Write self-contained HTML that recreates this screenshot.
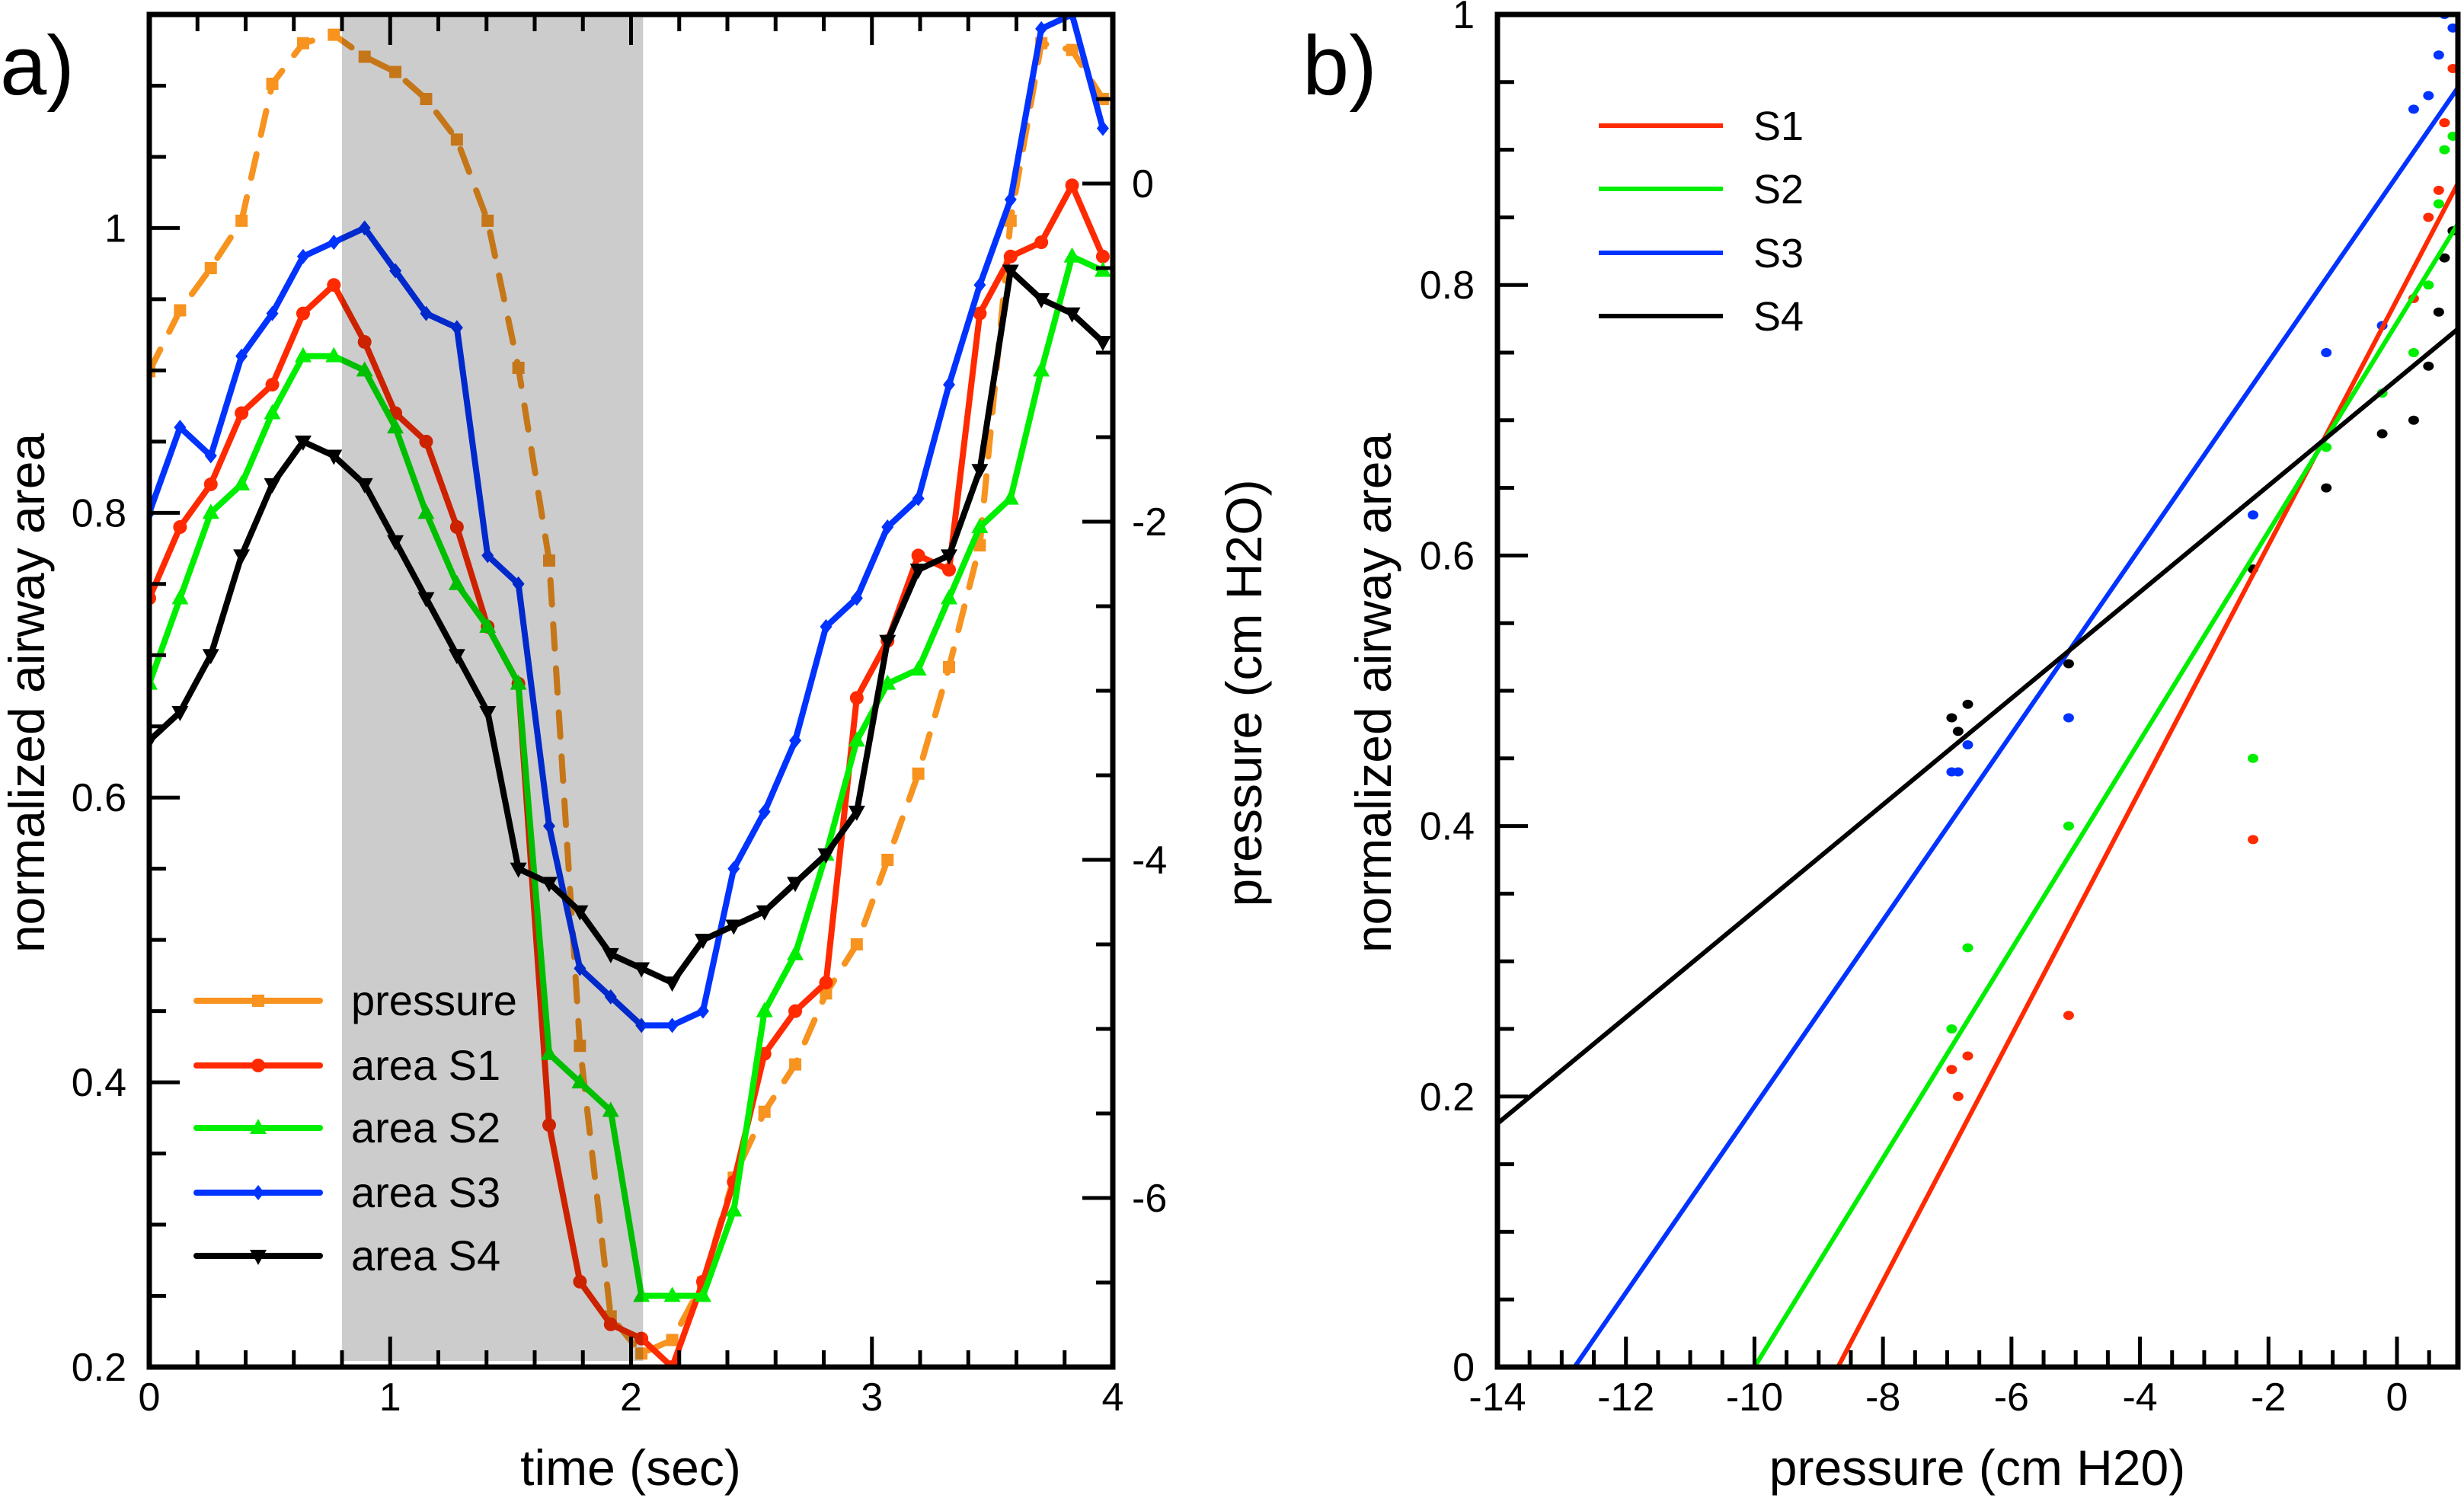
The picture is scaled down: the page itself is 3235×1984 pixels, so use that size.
<!DOCTYPE html>
<html><head><meta charset="utf-8"><style>
html,body{margin:0;padding:0;background:#fff;overflow:hidden;width:3235px;height:1984px}
svg{display:block}
text{font-family:"Liberation Sans",Arial,sans-serif;fill:#000}
</style></head><body>
<svg id="fig" width="3235" height="1984" viewBox="0 0 3235 1984" xmlns="http://www.w3.org/2000/svg">
<g id="pa"></g>
<g id="pb"></g>
</svg>
<script>
// ---- Panel a data ----
const sampleIndex = [0,1,2,3,4,5,6,7,8,9,10,11,12,13,14,15,16,17,18,19,20,21,22,23,24,25,26,27,28,29,30,31];
const sampleStep = 0.1277;
const pressureA = [-1.11,-0.75,-0.50,-0.22,0.59,0.83,0.88,0.75,0.66,0.50,0.26,-0.22,-1.09,-2.23,-5.10,-6.70,-6.92,-6.84,-6.50,-5.88,-5.49,-5.21,-4.79,-4.50,-4.00,-3.49,-2.86,-2.14,-0.22,0.83,0.79,0.50];
const areaS1 = [0.74,0.79,0.82,0.87,0.89,0.94,0.96,0.92,0.87,0.85,0.79,0.72,0.68,0.37,0.26,0.23,0.22,0.20,0.26,0.33,0.42,0.45,0.47,0.67,0.71,0.77,0.76,0.94,0.98,0.99,1.03,0.98];
const areaS2 = [0.68,0.74,0.80,0.82,0.87,0.91,0.91,0.90,0.86,0.80,0.75,0.72,0.68,0.42,0.40,0.38,0.25,0.25,0.25,0.31,0.45,0.49,0.56,0.64,0.68,0.69,0.74,0.79,0.81,0.90,0.98,0.97];
const areaS3 = [0.80,0.86,0.84,0.91,0.94,0.98,0.99,1.00,0.97,0.94,0.93,0.77,0.75,0.58,0.48,0.46,0.44,0.44,0.45,0.55,0.59,0.64,0.72,0.74,0.79,0.81,0.89,0.96,1.02,1.14,1.15,1.07];
const areaS4 = [0.64,0.66,0.70,0.77,0.82,0.85,0.84,0.82,0.78,0.74,0.70,0.66,0.55,0.54,0.52,0.49,0.48,0.47,0.50,0.51,0.52,0.54,0.56,0.59,0.71,0.76,0.77,0.83,0.97,0.95,0.94,0.92];
const shadeRange = [0.8, 2.05];
const xTicksA = [0,1,2,3,4];
const yTicksA = [0.2,0.4,0.6,0.8,1];
const yTickLabelsA = ["0.2","0.4","0.6","0.8","1"];
const pTicks = [0,-2,-4,-6];
// ---- Panel b data ----
const fitSlope = [0.0907,0.0772,0.0688,0.0393];
const fitZero = [-8.7,-10.0,-12.8,-18.58];
const s1P = [-6.93,-6.83,-6.68,-5.11,-2.24,0.26,0.49,0.65,0.74,0.87];
const s1A = [0.22,0.20,0.23,0.26,0.39,0.79,0.85,0.87,0.92,0.96];
const s2P = [-6.93,-6.68,-5.11,-2.24,-1.10,-0.23,0.26,0.49,0.65,0.74,0.87];
const s2A = [0.25,0.31,0.40,0.45,0.68,0.72,0.75,0.80,0.86,0.90,0.91];
const s3P = [-6.93,-6.83,-6.68,-5.11,-2.24,-1.10,-0.23,0.26,0.49,0.65,0.74,0.87];
const s3A = [0.44,0.44,0.46,0.48,0.63,0.75,0.77,0.93,0.94,0.97,1.00,0.99];
const s4P = [-6.93,-6.83,-6.68,-5.11,-2.24,-1.10,-0.23,0.26,0.49,0.65,0.74,0.87];
const s4A = [0.48,0.47,0.49,0.52,0.59,0.65,0.69,0.70,0.74,0.78,0.82,0.84];
const xTicksB = [-14,-12,-10,-8,-6,-4,-2,0];
const yTicksB = [0,0.2,0.4,0.6,0.8,1];
const yTickLabelsB = ["0","0.2","0.4","0.6","0.8","1"];

const NS="http://www.w3.org/2000/svg";
function mk(parent,tag,attrs,txt){const e=document.createElementNS(NS,tag);for(const k in attrs)e.setAttribute(k,attrs[k]);if(txt!==undefined)e.textContent=txt;parent.appendChild(e);return e;}

// ===== Panel a =====
const pa=document.getElementById('pa');
const AX0=196,AX1=1461,AY0=19,AY1=1795;
const ax=t=>AX0+(t-0)/4*(AX1-AX0);
const ay=v=>AY1-(v-0.2)/(1.15-0.2)*(AY1-AY0);
const py=p=>AY1-(p+7)/8*(AY1-AY0);
const times=sampleIndex.map(i=>i*sampleStep);

function marker(g,type,x,y,color){
  let e;
  if(type==='square')e=mk(g,'rect',{x:x-8,y:y-8,width:16,height:16,fill:color});
  else if(type==='circle')e=mk(g,'circle',{cx:x,cy:y,r:9,fill:color});
  else if(type==='tri')e=mk(g,'polygon',{points:`${x},${y-12} ${x-11},${y+8} ${x+11},${y+8}`,fill:color});
  else if(type==='diamond')e=mk(g,'polygon',{points:`${x},${y-10} ${x+8},${y} ${x},${y+10} ${x-8},${y}`,fill:color});
  else if(type==='dtri')e=mk(g,'polygon',{points:`${x},${y+12} ${x-11},${y-8} ${x+11},${y-8}`,fill:color});
  return e;
}
const seriesA=[
 {name:'pressure',vals:pressureA,color:'#f7931e',m:'square',yf:py,dash:'32 26'},
 {name:'area-s1',vals:areaS1,color:'#ff2a00',m:'circle',yf:ay},
 {name:'area-s2',vals:areaS2,color:'#00ee00',m:'tri',yf:ay},
 {name:'area-s3',vals:areaS3,color:'#0033ff',m:'diamond',yf:ay},
 {name:'area-s4',vals:areaS4,color:'#000000',m:'dtri',yf:ay}
];
const clipA=mk(pa,'clipPath',{id:'clipA'});mk(clipA,'rect',{x:AX0,y:AY0,width:AX1-AX0,height:AY1-AY0});
seriesA.forEach(s=>{
  const g=mk(pa,'g',{'clip-path':'url(#clipA)'});
  
  
  const pts=s.vals.map((v,i)=>ax(times[i])+','+s.yf(v)).join(' ');
  const pl=mk(g,'polyline',{points:pts,fill:'none',stroke:s.color,'stroke-width':8,'stroke-linejoin':'round','stroke-linecap':'round'});
  if(s.dash)pl.setAttribute('stroke-dasharray',s.dash);
  s.vals.forEach((v,i)=>{const e=marker(g,s.m,ax(times[i]),s.yf(v),s.color);
    
    });
});
let shade2=mk(pa,'rect',{x:ax(shadeRange[0]),y:AY0+4,width:ax(shadeRange[1])-ax(shadeRange[0]),height:AY1-AY0-12,fill:'#cccccc',style:'mix-blend-mode:multiply'});



let fa=mk(pa,'rect',{x:AX0,y:AY0,width:AX1-AX0,height:AY1-AY0,fill:'none',stroke:'#000','stroke-width':7});


const tg=mk(pa,'g',{stroke:'#000','stroke-width':5});
for(let t=0;t<=4.001;t+=0.2){const x=ax(t);const major=Math.abs(t-Math.round(t))<1e-6;
  mk(tg,'line',{x1:x,y1:AY1,x2:x,y2:AY1-(major?40:22)});mk(tg,'line',{x1:x,y1:AY0,x2:x,y2:AY0+(major?40:22)});}
for(let v=0.2;v<=1.151;v+=0.05){const y=ay(v);const major=Math.abs(v*5-Math.round(v*5))<1e-6;
  mk(tg,'line',{x1:AX0,y1:y,x2:AX0+(major?40:22),y2:y});}
for(let p=-7;p<=1.001;p+=0.5){const y=py(p);const major=Math.abs(p/2-Math.round(p/2))<1e-6;
  mk(tg,'line',{x1:AX1,y1:y,x2:AX1-(major?40:22),y2:y});}
xTicksA.forEach(t=>{const e=mk(pa,'text',{x:ax(t),y:1852,'font-size':52,'text-anchor':'middle'},String(t));
  });
yTicksA.forEach((v,i)=>{const e=mk(pa,'text',{x:166,y:ay(v)+18,'font-size':52,'text-anchor':'end'},yTickLabelsA[i]);
  });
pTicks.forEach(p=>{const e=mk(pa,'text',{x:1486,y:py(p)+18,'font-size':52,'text-anchor':'start'},String(p));
  });
let t1=mk(pa,'text',{x:828,y:1950,'font-size':66,'text-anchor':'middle'},'time (sec)');

let t2=mk(pa,'text',{x:0,y:0,'font-size':66,'text-anchor':'middle',transform:'translate(58,910) rotate(-90)'},'normalized airway area');

let t3=mk(pa,'text',{x:0,y:0,'font-size':66,'text-anchor':'middle',transform:'translate(1656,910) rotate(-90)'},'pressure (cm H2O)');

let la=mk(pa,'text',{x:0,y:124,'font-size':110},'a)');

const legRows=[1314,1399,1481,1566,1649];
const legLabels=['pressure','area S1','area S2','area S3','area S4'];
seriesA.forEach((s,i)=>{const g=mk(pa,'g',{});
  
  
  mk(g,'line',{x1:258,y1:legRows[i],x2:420,y2:legRows[i],stroke:s.color,'stroke-width':8,'stroke-linecap':'round'});
  marker(g,s.m,339,legRows[i],s.color);
  mk(g,'text',{x:461,y:legRows[i]+19,'font-size':56},legLabels[i]);});

// ===== Panel b =====
const pb=document.getElementById('pb');
const BX0=1966,BX1=3227,BY0=19,BY1=1795;
const bxScale=(3147-1966)/14;
const bx=p=>BX0+(p+14)*bxScale;
const by=v=>BY1-v*(BY1-BY0);
const pMax=(BX1-BX0)/bxScale-14;
const colors=['#ff2a00','#00ee00','#0033ff','#000000'];
const clipB=mk(pb,'clipPath',{id:'clipB'});mk(clipB,'rect',{x:BX0,y:BY0,width:BX1-BX0,height:BY1-BY0});
const scP=[s1P,s2P,s3P,s4P],scA=[s1A,s2A,s3A,s4A];
scP.forEach((P,k)=>{const g=mk(pb,'g',{'clip-path':'url(#clipB)'});
  
  
  P.forEach((p,i)=>{const c=mk(g,'ellipse',{cx:bx(p),cy:by(scA[k][i]),rx:7,ry:6,fill:colors[k]});
    
    });});
fitSlope.forEach((m,k)=>{const g=mk(pb,'g',{'clip-path':'url(#clipB)'});
  
  
  const f=p=>m*(p-fitZero[k]);
  let p0=Math.max(-14,fitZero[k]);
  let p1=Math.min(pMax,fitZero[k]+1/m);
  mk(g,'line',{x1:bx(p0),y1:by(f(p0)),x2:bx(p1),y2:by(f(p1)),stroke:colors[k],'stroke-width':6});});
let fb=mk(pb,'rect',{x:BX0,y:BY0,width:BX1-BX0,height:BY1-BY0,fill:'none',stroke:'#000','stroke-width':7});


const tb=mk(pb,'g',{stroke:'#000','stroke-width':5});
for(let p=-14;p<=pMax;p+=0.5){const x=bx(p);const major=Math.abs(p/2-Math.round(p/2))<1e-6;
  mk(tb,'line',{x1:x,y1:BY1,x2:x,y2:BY1-(major?40:22)});}
for(let v=0;v<=1.001;v+=0.05){const y=by(v);const major=Math.abs(v*5-Math.round(v*5))<1e-6;
  mk(tb,'line',{x1:BX0,y1:y,x2:BX0+(major?40:22),y2:y});}
xTicksB.forEach(p=>{const e=mk(pb,'text',{x:bx(p),y:1852,'font-size':52,'text-anchor':'middle'},String(p));
  });
yTicksB.forEach((v,i)=>{const e=mk(pb,'text',{x:1936,y:by(v)+18,'font-size':52,'text-anchor':'end'},yTickLabelsB[i]);
  });
let t4=mk(pb,'text',{x:2596,y:1950,'font-size':66,'text-anchor':'middle'},'pressure (cm H20)');

let t5=mk(pb,'text',{x:0,y:0,'font-size':66,'text-anchor':'middle',transform:'translate(1826,910) rotate(-90)'},'normalized airway area');

let lb=mk(pb,'text',{x:1710,y:124,'font-size':110},'b)');

const legB=[165,248,332,415],legBL=['S1','S2','S3','S4'];
legB.forEach((y,i)=>{const g=mk(pb,'g',{});
  
  
  mk(g,'line',{x1:2099,y1:y,x2:2262,y2:y,stroke:colors[i],'stroke-width':6});
  mk(g,'text',{x:2302,y:y+19,'font-size':54},legBL[i]);});
</script>
</body></html>
